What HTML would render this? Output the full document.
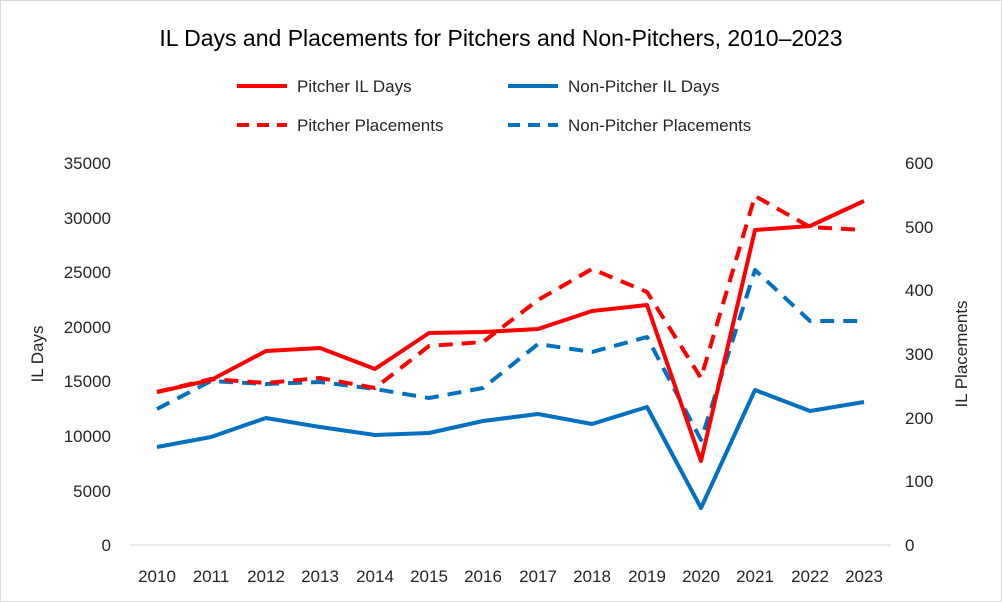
<!DOCTYPE html>
<html><head><meta charset="utf-8"><style>
html,body{margin:0;padding:0;background:#fff}
svg{display:block;font-family:"Liberation Sans",Arial,sans-serif}
</style></head><body>
<svg width="1002" height="602" viewBox="0 0 1002 602">
<rect x="0.5" y="0.5" width="1001" height="601" fill="#fff" stroke="#d9d9d9"/>
<text x="501" y="46" text-anchor="middle" font-size="23" fill="#000">IL Days and Placements for Pitchers and Non-Pitchers, 2010–2023</text>
<g stroke-width="4" fill="none">
<line x1="237" y1="86" x2="287" y2="86" stroke="#ff0000"/>
<line x1="508" y1="86" x2="558" y2="86" stroke="#0070c0"/>
<line x1="237" y1="125" x2="287" y2="125" stroke="#ff0000" stroke-dasharray="12,8"/>
<line x1="508" y1="125" x2="558" y2="125" stroke="#0070c0" stroke-dasharray="12,8"/>
</g>
<g font-size="17" fill="#262626">
<text x="297" y="92">Pitcher IL Days</text>
<text x="568" y="92">Non-Pitcher IL Days</text>
<text x="297" y="131">Pitcher Placements</text>
<text x="568" y="131">Non-Pitcher Placements</text>
</g>
<line x1="130" y1="545" x2="891" y2="545" stroke="#d9d9d9"/>
<g font-size="17" fill="#262626" text-anchor="end">
<text x="111" y="551">0</text><text x="111" y="497">5000</text><text x="111" y="442">10000</text>
<text x="111" y="387">15000</text><text x="111" y="333">20000</text><text x="111" y="278">25000</text>
<text x="111" y="224">30000</text><text x="111" y="169">35000</text>
</g>
<g font-size="17" fill="#262626" text-anchor="start">
<text x="905" y="551">0</text><text x="905" y="487">100</text><text x="905" y="424">200</text>
<text x="905" y="360">300</text><text x="905" y="296">400</text><text x="905" y="233">500</text>
<text x="905" y="169">600</text>
</g>
<text transform="translate(43,354) rotate(-90)" text-anchor="middle" font-size="17" fill="#262626">IL Days</text>
<text transform="translate(967,354) rotate(-90)" text-anchor="middle" font-size="17" fill="#262626">IL Placements</text>
<g font-size="17" fill="#262626" text-anchor="middle">
<text x="157" y="582">2010</text><text x="211" y="582">2011</text><text x="266" y="582">2012</text>
<text x="320" y="582">2013</text><text x="375" y="582">2014</text><text x="429" y="582">2015</text>
<text x="483" y="582">2016</text><text x="538" y="582">2017</text><text x="592" y="582">2018</text>
<text x="647" y="582">2019</text><text x="701" y="582">2020</text><text x="755" y="582">2021</text>
<text x="810" y="582">2022</text><text x="864" y="582">2023</text>
</g>
<g fill="none" stroke-width="4" stroke-linejoin="round">
<polyline stroke="#0070c0" points="157,447 211,437 266,418 320,427 375,435 429,433 483,421 538,414 592,424 647,407 701,508 755,390 810,411 864,402"/>
<polyline stroke="#0070c0" stroke-dasharray="14,9" points="157,409 211,381 266,384 320,382 375,389 429,398 483,388 538,344 592,352 647,337 701,440 755,270 810,321 864,321"/>
<polyline stroke="#ff0000" stroke-dasharray="14,9" points="157,392 211,379 266,383 320,378 375,388 429,346 483,342 538,300 592,269 647,292 701,378 755,196 810,227 864,230"/>
<polyline stroke="#ff0000" points="157,392 211,380 266,351 320,348 375,369 429,333 483,332 538,329 592,311 647,305 701,461 755,230 810,226 864,201"/>
</g>
</svg>
</body></html>
